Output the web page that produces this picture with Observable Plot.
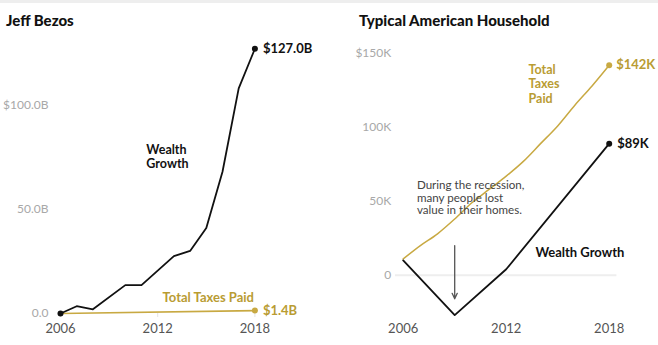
<!DOCTYPE html>
<html><head><meta charset="utf-8">
<script src="https://cdn.jsdelivr.net/npm/d3@7"></script>
<script src="https://cdn.jsdelivr.net/npm/@observablehq/plot@0.6"></script>
<style>
html,body{margin:0;padding:0;background:#fff;}
#wrap{position:relative;width:658px;height:345px;overflow:hidden;font-family:Lato,"Open Sans",sans-serif;}
#topline{position:absolute;left:0;top:0;width:658px;height:3px;background:#eeeeee;}
.title{position:absolute;top:13px;font-weight:900;font-size:15px;line-height:15px;color:#111;white-space:nowrap;}
.panel{position:absolute;top:0;}
</style></head><body>
<div id="wrap">
  <div id="topline"></div>
  <div class="title" style="left:6px">Jeff Bezos</div>
  <div class="title" style="left:359px">Typical American Household</div>
  <div class="panel" id="left" style="left:0px"></div>
  <div class="panel" id="right" style="left:330px"></div>
</div>
<script>
// ---------- data ----------
const xTicks = [2006, 2012, 2018];

// Jeff Bezos (billions of dollars)
const bezosYears = [2006, 2007, 2008, 2010, 2011, 2013, 2014, 2015, 2016, 2017, 2018];
const bezosWealth = [0, 3.5, 2, 13.6, 13.6, 27.5, 30, 41, 68, 108, 127];
const bezosTaxYears = [2006, 2018];
const bezosTaxes = [0, 1.4];
const leftYTicks = [0, 50, 100];
const leftYLabels = ["0.0", "50.0B", "$100.0B"];

// Typical American household (thousands of dollars)
const hhWealthYears = [2006, 2009, 2012, 2018];
const hhWealth = [10, -27, 4, 89];
const hhTaxYears = [2006, 2007, 2008, 2009, 2010, 2011, 2012, 2013, 2014, 2015, 2016, 2017, 2018];
const hhTaxes = [11, 20, 28, 38, 49, 58, 67, 77, 89, 101, 115, 128, 142];
const rightYTicks = [0, 50, 100, 150];
const rightYLabels = ["0", "50K", "100K", "$150K"];

// annotation anchors (data coordinates)
const leftLabels = [
  {x: 2011.3, y: 75.4, text: "Wealth\nGrowth", color: "#111", size: 12.5, lh: 1.1},
  {x: 2012.3, y: 7.3, text: "Total Taxes Paid", color: "#b99c33", size: 13, lh: 1}
];
const rightLabels = [
  {x: 2013.7, y: 14.9, text: "Wealth Growth", color: "#111", size: 13, lh: 1},
  {x: 2013.3, y: 129.6, text: "Total\nTaxes\nPaid", color: "#b99c33", size: 12.5, lh: 1.15}
];
const recessionNote = {x: 2006.8, y: 52.3, text: "During the recession,\nmany people lost\nvalue in their homes."};
const recessionArrow = {x: 2009, y1: 20, y2: -16};

const BLACK = "#111111", GOLD_LINE = "#c8a942", GOLD_TEXT = "#b99c33";
const FONT = "Lato, 'Open Sans', sans-serif";

const bezosW = bezosYears.map((y, i) => ({year: y, v: bezosWealth[i]}));
const bezosT = bezosTaxYears.map((y, i) => ({year: y, v: bezosTaxes[i]}));
const hhW = hhWealthYears.map((y, i) => ({year: y, v: hhWealth[i]}));
const hhT = hhTaxYears.map((y, i) => ({year: y, v: hhTaxes[i]}));
const fmtB = d => "$" + d.toFixed(1) + "B";
const fmtK = d => "$" + Math.round(d) + "K";

function labelMarks(list) {
  return list.map(l => Plot.text([l], {x: "x", y: "y", text: "text", fill: "color", textAnchor: "start", fontWeight: "bold", fontSize: l.size, lineHeight: l.lh}));
}

const left = Plot.plot({
  width: 329, height: 345,
  marginLeft: 60, marginRight: 74.6, marginTop: 42, marginBottom: 32,
  x: {domain: [2006, 2018]},
  y: {domain: [0, 130]},
  style: {fontFamily: FONT, fontSize: "12px", background: "transparent", overflow: "visible"},
  marks: [
    Plot.axisX({ticks: xTicks, tickFormat: d => String(d), tickSize: 4, tickPadding: 6, stroke: "#e4e4e4", fill: "#555", fontSize: 13, label: null}),
    Plot.axisY({ticks: leftYTicks, tickFormat: d => leftYLabels[leftYTicks.indexOf(d)], tickSize: 0, tickPadding: 12, fill: "#a8a8a8", fontSize: 12, label: null}),
    Plot.line(bezosT, {x: "year", y: "v", stroke: GOLD_LINE, strokeWidth: 1.6}),
    Plot.line(bezosW, {x: "year", y: "v", stroke: BLACK, strokeWidth: 1.8}),
    Plot.dot([bezosW[0], bezosW[bezosW.length - 1]], {x: "year", y: "v", r: 3, fill: BLACK}),
    Plot.dot([bezosT[bezosT.length - 1]], {x: "year", y: "v", r: 3, fill: GOLD_LINE}),
    Plot.text([bezosW[bezosW.length - 1]], {x: "year", y: "v", text: d => fmtB(d.v), dx: 8, textAnchor: "start", fill: BLACK, fontWeight: "bold", fontSize: 13}),
    Plot.text([bezosT[bezosT.length - 1]], {x: "year", y: "v", text: d => fmtB(d.v), dx: 8, textAnchor: "start", fill: GOLD_TEXT, fontWeight: "bold", fontSize: 13}),
    ...labelMarks(leftLabels)
  ]
});
document.getElementById("left").appendChild(left);

const right = Plot.plot({
  width: 328, height: 345,
  marginLeft: 72.7, marginRight: 49.3, marginTop: 53, marginBottom: 26,
  x: {domain: [2006, 2018]},
  y: {domain: [-30, 150]},
  style: {fontFamily: FONT, fontSize: "12px", background: "transparent", overflow: "visible"},
  marks: [
    Plot.ruleY([0], {x1: 2005.55, x2: 2018.45, stroke: "#eeeeee", strokeWidth: 2}),
    Plot.axisX({ticks: xTicks, tickFormat: d => String(d), tickSize: 0, tickPadding: 4, fill: "#555", fontSize: 13, label: null}),
    Plot.axisY({ticks: rightYTicks, tickFormat: d => rightYLabels[rightYTicks.indexOf(d)], tickSize: 0, tickPadding: 12, fill: "#a8a8a8", fontSize: 12, label: null}),
    Plot.line(hhT, {x: "year", y: "v", stroke: GOLD_LINE, strokeWidth: 1.5, curve: "monotone-x"}),
    Plot.line(hhW, {x: "year", y: "v", stroke: BLACK, strokeWidth: 1.8}),
    Plot.dot([hhT[hhT.length - 1]], {x: "year", y: "v", r: 3, fill: GOLD_LINE}),
    Plot.dot([hhW[hhW.length - 1]], {x: "year", y: "v", r: 3, fill: BLACK}),
    Plot.text([hhT[hhT.length - 1]], {x: "year", y: "v", text: d => fmtK(d.v), dx: 7, textAnchor: "start", fill: GOLD_TEXT, fontWeight: "bold", fontSize: 13}),
    Plot.text([hhW[hhW.length - 1]], {x: "year", y: "v", text: d => fmtK(d.v), dx: 8, textAnchor: "start", fill: BLACK, fontWeight: "bold", fontSize: 13}),
    ...labelMarks(rightLabels),
    Plot.text([recessionNote], {x: "x", y: "y", text: "text", fill: "#444", textAnchor: "start", fontSize: 11.6, lineHeight: 1.08}),
    Plot.arrow([recessionArrow], {x1: "x", x2: "x", y1: "y1", y2: "y2", stroke: "#555", strokeWidth: 1.3, headLength: 7, headAngle: 50})
  ]
});
document.getElementById("right").appendChild(right);
</script>
</body></html>
